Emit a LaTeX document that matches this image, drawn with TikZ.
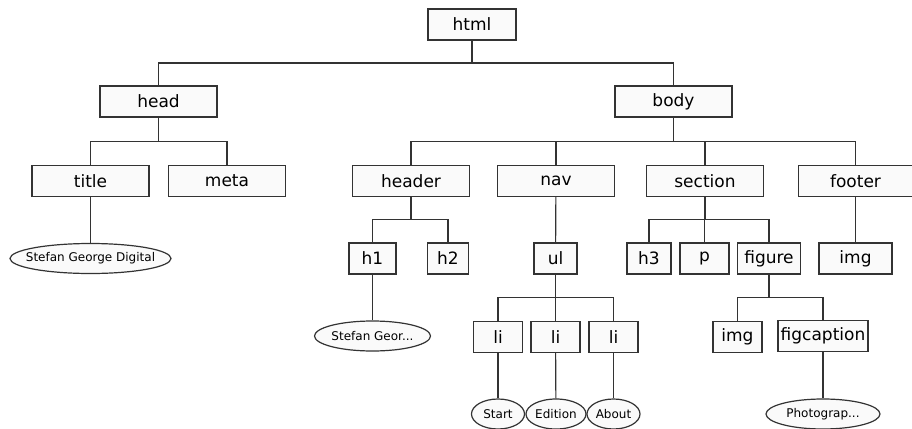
\documentclass[tikz,border=0pt]{standalone}
\usepackage{fontspec}
\setmainfont{DejaVu Sans}
\usepackage{tikz}
\usetikzlibrary{shapes.geometric,calc}

\definecolor{linegray}{HTML}{333333}
\definecolor{boxfill}{HTML}{FAFAFA}
\tikzset{
  tag/.style={draw=linegray, fill=boxfill, line width=0.6pt, inner sep=0pt,
    minimum height=15.5pt, font=\fontsize{8.5}{10}\selectfont},
  txt/.style={ellipse, draw=linegray, fill=boxfill, line width=0.6pt, inner sep=0pt,
    minimum height=15pt, font=\fontsize{6}{7}\selectfont},
  elbow/.style={to path={(\tikztostart) -- ($(\tikztostart)!0.5!(\tikztostart|-\tikztotarget)$) -| (\tikztotarget)}}
}

\begin{document}
\begin{tikzpicture}[x=0.5pt, y=-0.5pt]
\useasboundingbox (0,0) rectangle (912,429);

\node[tag, minimum width=44pt] (html) at (472,24.5) {html};

\node[tag, minimum width=58.5pt] (head) at (158.5,101.5) {head};
\node[tag, minimum width=58.5pt] (body) at (673.5,101.5) {body};

\node[tag, minimum width=58.5pt] (title) at (90.5,181) {title};
\node[tag, minimum width=58.5pt] (meta) at (227,181) {meta};
\node[tag, minimum width=58.5pt] (header) at (411,181) {header};
\node[tag, minimum width=58.5pt] (nav) at (556,181) {nav};
\node[tag, minimum width=58.5pt] (section) at (705,181) {section};
\node[tag, minimum width=57pt] (footer) at (855.5,181) {footer};

\node[txt, minimum width=80.5pt, inner xsep=-4pt] (titletxt) at (90.5,258.5) {Stefan George Digital};
\node[tag, minimum width=23.5pt] (h1) at (372.5,258.5) {h1};
\node[tag, minimum width=20.5pt] (h2) at (448,258.5) {h2};
\node[tag, minimum width=21.5pt] (ul) at (555.5,258.5) {ul};
\node[tag, minimum width=22pt] (h3) at (649,258.5) {h3};
\node[tag, minimum width=24.5pt] (p) at (704.5,258.5) {p};
\node[tag, minimum width=31.5pt] (figure) at (769,258.5) {figure};
\node[tag, minimum width=36.5pt] (footimg) at (855.5,258.5) {img};

\node[txt, minimum width=58pt] (h1txt) at (372.5,336) {Stefan Geor...};
\node[tag, minimum width=24.5pt] (li1) at (498,337) {li};
\node[tag, minimum width=24.5pt] (li2) at (555.5,337) {li};
\node[tag, minimum width=24.5pt] (li3) at (613.5,337) {li};
\node[tag, minimum width=24.5pt] (figimg) at (737.5,337) {img};
\node[tag, minimum width=45pt] (figcap) at (823,336) {figcaption};

\node[txt, minimum width=26.5pt] (start) at (498,414) {Start};
\node[txt, minimum width=30pt] (edition) at (556,414) {Edition};
\node[txt, minimum width=26.5pt] (about) at (613.5,414) {About};
\node[txt, minimum width=57pt] (captxt) at (823,414) {Photograp...};

% tree connectors
\draw[linegray, line width=0.6pt] (html) edge[elbow] (head) edge[elbow] (body);
\draw[linegray, line width=0.6pt] (head) edge[elbow] (title) edge[elbow] (meta);
\draw[linegray, line width=0.6pt] (body) edge[elbow] (header) edge[elbow] (nav)
  edge[elbow] (section) edge[elbow] (footer);
\draw[linegray, line width=0.6pt] (title) -- (titletxt);
\draw[linegray, line width=0.6pt] (header) edge[elbow] (h1) edge[elbow] (h2);
\draw[linegray, line width=0.6pt] (nav) -- (ul);
\draw[linegray, line width=0.6pt] (section) edge[elbow] (h3) edge[elbow] (p) edge[elbow] (figure);
\draw[linegray, line width=0.6pt] (footer) -- (footimg);
\draw[linegray, line width=0.6pt] (h1) -- (h1txt);
\draw[linegray, line width=0.6pt] (ul) edge[elbow] (li1) edge[elbow] (li2) edge[elbow] (li3);
\draw[linegray, line width=0.6pt] (figure) edge[elbow] (figimg) edge[elbow] (figcap);
\draw[linegray, line width=0.6pt] (li1) -- (start);
\draw[linegray, line width=0.6pt] (li2) -- (edition);
\draw[linegray, line width=0.6pt] (li3) -- (about);
\draw[linegray, line width=0.6pt] (figcap) -- (captxt);
\end{tikzpicture}
\end{document}
